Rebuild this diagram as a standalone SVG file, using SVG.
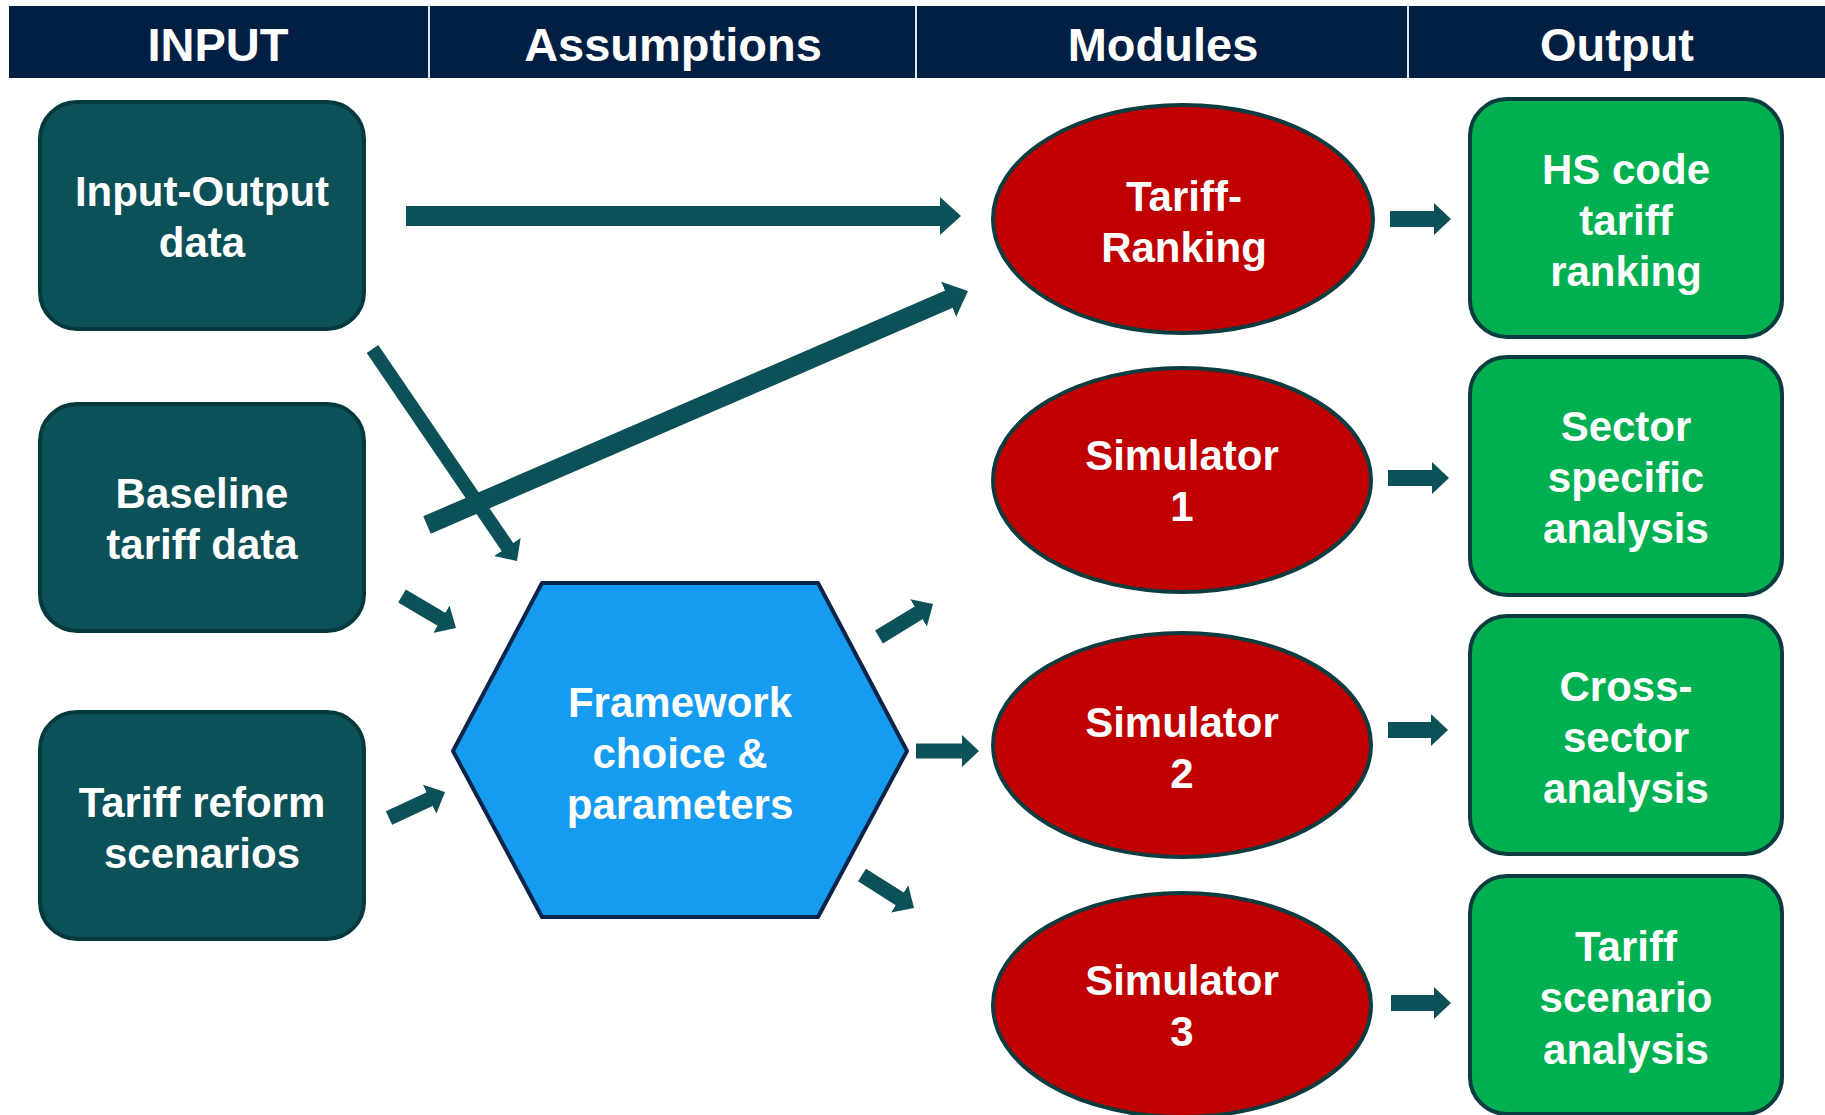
<svg xmlns="http://www.w3.org/2000/svg" width="1825" height="1115" viewBox="0 0 1825 1115">
<defs>
<style>
.hdr{font-family:"Liberation Sans",Arial,sans-serif;font-weight:bold;font-size:47px;fill:#fff;text-anchor:middle}
.t{font-family:"Liberation Sans",Arial,sans-serif;font-weight:bold;font-size:42px;fill:#fff;text-anchor:middle}
.inp{fill:#0c5058;stroke:#06393e;stroke-width:4}
.out{fill:#00b050;stroke:#0a3c40;stroke-width:4}
.mod{fill:#c00000;stroke:#0a3c40;stroke-width:4}
.hex{fill:#159bf0;stroke:#0b2447;stroke-width:4;stroke-linejoin:round}
.c{stroke:#0c5058;fill:none}
</style>
<marker id="hb" markerUnits="userSpaceOnUse" markerWidth="22" markerHeight="40" viewBox="-1 -20 22 40" refX="0" refY="0" orient="auto">
<path d="M-1,-19 L20,0 L-1,19 Z" fill="#0c5058"/>
</marker>
<marker id="hs" markerUnits="userSpaceOnUse" markerWidth="18" markerHeight="34" viewBox="-1 -17 18 34" refX="0" refY="0" orient="auto">
<path d="M-1,-16 L16,0 L-1,16 Z" fill="#0c5058"/>
</marker>
</defs>
<rect width="1825" height="1115" fill="#fff"/>
<g id="header">
<rect x="9" y="6" width="1816" height="72" fill="#011e43"/>
<line x1="429" y1="6" x2="429" y2="78" stroke="#dfe4ea" stroke-width="2"/>
<line x1="916" y1="6" x2="916" y2="78" stroke="#dfe4ea" stroke-width="2"/>
<line x1="1408" y1="6" x2="1408" y2="78" stroke="#dfe4ea" stroke-width="2"/>
<text class="hdr" x="218" y="61">INPUT</text>
<text class="hdr" x="673" y="61">Assumptions</text>
<text class="hdr" x="1163" y="61">Modules</text>
<text class="hdr" x="1617" y="61">Output</text>
</g>
<g id="connectors">
<line class="c" x1="406" y1="216" x2="941" y2="216" stroke-width="20" marker-end="url(#hb)"/>
<line class="c" x1="427" y1="525" x2="949.6" y2="298.9" stroke-width="19" marker-end="url(#hb)"/>
<line class="c" x1="372.5" y1="349" x2="508" y2="547.8" stroke-width="14" marker-end="url(#hs)"/>
<line class="c" x1="402" y1="596" x2="442.2" y2="619.8" stroke-width="15" marker-end="url(#hs)"/>
<line class="c" x1="389" y1="818" x2="430.5" y2="798.7" stroke-width="15" marker-end="url(#hs)"/>
<line class="c" x1="879" y1="637" x2="919.4" y2="612.3" stroke-width="15" marker-end="url(#hs)"/>
<line class="c" x1="916" y1="751" x2="963" y2="751" stroke-width="15" marker-end="url(#hs)"/>
<line class="c" x1="862" y1="875" x2="900.5" y2="899.4" stroke-width="15" marker-end="url(#hs)"/>
<line class="c" x1="1390" y1="219" x2="1435" y2="219" stroke-width="16" marker-end="url(#hs)"/>
<line class="c" x1="1388" y1="478" x2="1433" y2="478" stroke-width="16" marker-end="url(#hs)"/>
<line class="c" x1="1388" y1="730" x2="1432" y2="730" stroke-width="16" marker-end="url(#hs)"/>
<line class="c" x1="1391" y1="1003" x2="1435" y2="1003" stroke-width="16" marker-end="url(#hs)"/>
</g>
<g id="input-output-data">
<rect class="inp" x="40" y="102" width="324" height="227" rx="37"/>
<text class="t" x="202" y="206">Input-Output</text>
<text class="t" x="202" y="257">data</text>
</g>
<g id="baseline-tariff-data">
<rect class="inp" x="40" y="404" width="324" height="227" rx="37"/>
<text class="t" x="202" y="508">Baseline</text>
<text class="t" x="202" y="559">tariff data</text>
</g>
<g id="tariff-reform-scenarios">
<rect class="inp" x="40" y="712" width="324" height="227" rx="37"/>
<text class="t" x="202" y="817">Tariff reform</text>
<text class="t" x="202" y="868">scenarios</text>
</g>
<g id="framework">
<polygon class="hex" points="453,751 542,583 818,583 907,751 818,917 542,917"/>
<text class="t" x="680" y="717">Framework</text>
<text class="t" x="680" y="768">choice &amp;</text>
<text class="t" x="680" y="819">parameters</text>
</g>
<g id="tariff-ranking">
<ellipse class="mod" cx="1183" cy="219" rx="190" ry="114"/>
<text class="t" x="1184" y="211">Tariff-</text>
<text class="t" x="1184" y="262">Ranking</text>
</g>
<g id="simulator-1">
<ellipse class="mod" cx="1182" cy="480" rx="189" ry="112"/>
<text class="t" x="1182" y="470">Simulator</text>
<text class="t" x="1182" y="521">1</text>
</g>
<g id="simulator-2">
<ellipse class="mod" cx="1182" cy="745" rx="189" ry="112"/>
<text class="t" x="1182" y="737">Simulator</text>
<text class="t" x="1182" y="788">2</text>
</g>
<g id="simulator-3">
<ellipse class="mod" cx="1182" cy="1005" rx="189" ry="112"/>
<text class="t" x="1182" y="995">Simulator</text>
<text class="t" x="1182" y="1046">3</text>
</g>
<g id="hs-code-tariff-ranking">
<rect class="out" x="1470" y="99" width="312" height="238" rx="37"/>
<text class="t" x="1626" y="184">HS code</text>
<text class="t" x="1626" y="235">tariff</text>
<text class="t" x="1626" y="286">ranking</text>
</g>
<g id="sector-specific-analysis">
<rect class="out" x="1470" y="357" width="312" height="238" rx="37"/>
<text class="t" x="1626" y="441">Sector</text>
<text class="t" x="1626" y="492">specific</text>
<text class="t" x="1626" y="543">analysis</text>
</g>
<g id="cross-sector-analysis">
<rect class="out" x="1470" y="616" width="312" height="238" rx="37"/>
<text class="t" x="1626" y="701">Cross-</text>
<text class="t" x="1626" y="752">sector</text>
<text class="t" x="1626" y="803">analysis</text>
</g>
<g id="tariff-scenario-analysis">
<rect class="out" x="1470" y="876" width="312" height="238" rx="37"/>
<text class="t" x="1626" y="961">Tariff</text>
<text class="t" x="1626" y="1012">scenario</text>
<text class="t" x="1626" y="1064">analysis</text>
</g>
</svg>
